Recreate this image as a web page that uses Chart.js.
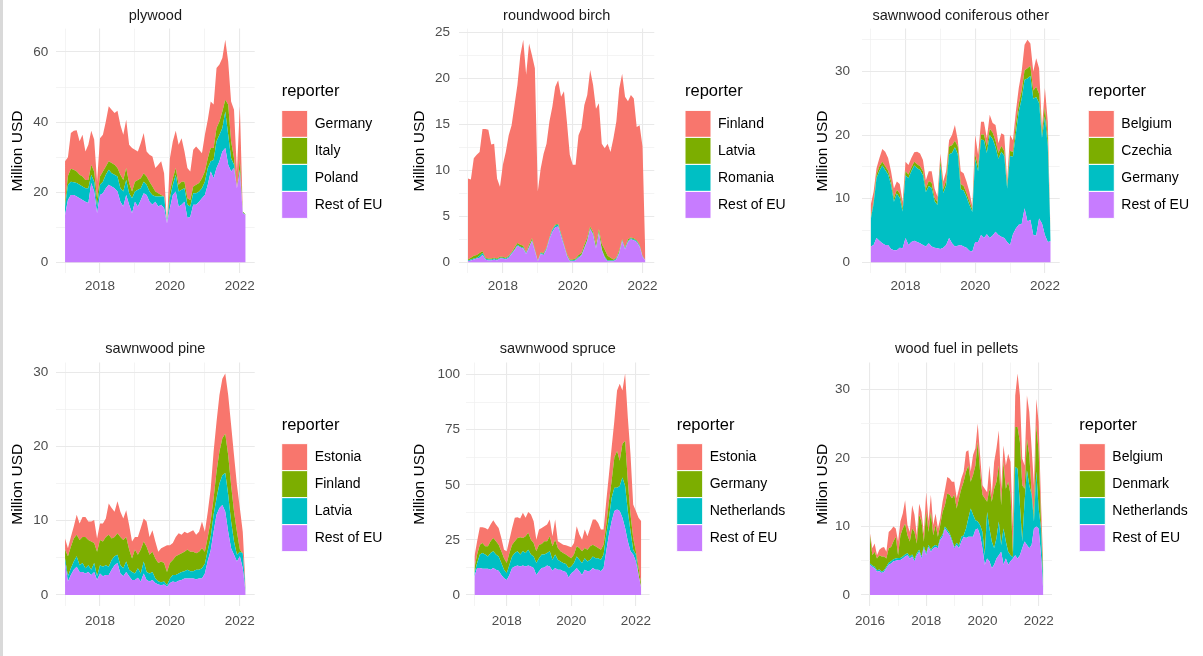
<!DOCTYPE html>
<html><head><meta charset="utf-8">
<script src="https://cdn.jsdelivr.net/npm/chart.js@4.4.1/dist/chart.umd.min.js"></script>
<style>
html,body{margin:0;padding:0;background:#fff;}
body{width:1203px;height:656px;position:relative;overflow:hidden;}
.panel{position:absolute;}
.panel canvas{display:block;}
#edge{position:absolute;left:0;top:0;width:3px;height:656px;background:#d9d9d9;}
</style></head><body>
<div id="edge"></div>
<div class="panel" style="left:0;top:0"><canvas id="c1" width="400" height="328"></canvas></div>
<div class="panel" style="left:400px;top:0"><canvas id="c2" width="400" height="328"></canvas></div>
<div class="panel" style="left:800px;top:0"><canvas id="c3" width="403" height="328"></canvas></div>
<div class="panel" style="left:0;top:328px"><canvas id="c4" width="400" height="328"></canvas></div>
<div class="panel" style="left:400px;top:328px"><canvas id="c5" width="400" height="328"></canvas></div>
<div class="panel" style="left:800px;top:328px"><canvas id="c6" width="403" height="328"></canvas></div>
<script>
// ---------------- DATA (Million USD, monthly) ----------------
// plywood: 2017-01 .. 2022-03
const plywoodStart = 2017;
const plywoodReporters = ['Germany','Italy','Poland','Rest of EU'];
const plywoodGermany = [11.8,5.4,10.2,11.1,11.8,9.5,11.9,8.1,10.0,9.7,9.1,4.7, 10.9,10.5,12.9,15.7,15.2,14.8,16.3,14.2,12.9,13.8,10.9,12.4, 9.1,8.1,10.0,11.5,7.1,7.7,8.6,6.7,8.1,9.6,6.6,0.0, 9.5,10.5,10.6,11.4,12.4,8.6,8.6,8.1,10.5,10.9,9.5,7.1, 10.5,11.0,13.3,12.4,17.1,16.2,15.3,17.1,12.3,11.4,13.8,4.8, 15.3,0.0,0.0];
const plywoodItaly = [1.1,2.5,3.7,3.6,3.3,2.9,2.9,2.4,2.4,2.8,2.9,2.4, 2.4,2.9,2.3,2.4,2.9,2.8,2.4,3.9,3.3,3.4,2.9,1.9, 2.8,2.8,2.9,2.4,2.4,2.8,2.4,1.4,0.9,0.4,0.0,0.0, 1.9,1.9,1.9,1.9,2.3,1.9,1.9,1.9,1.9,2.4,2.4,2.9, 2.9,2.8,3.8,3.4,3.8,3.8,4.7,3.4,8.6,4.8,1.9,0.0, 2.8,0.3,0.1];
const plywoodPoland = [2.4,4.3,3.8,3.6,3.8,3.8,3.8,3.8,4.2,2.4,2.8,1.9, 2.9,3.3,3.9,4.3,3.8,3.9,4.3,3.8,4.3,4.3,3.3,4.3, 2.9,4.8,3.3,3.3,2.9,2.9,2.8,1.5,2.9,2.4,3.4,0.1, 2.9,2.9,4.8,4.3,4.3,3.8,3.8,2.9,3.3,3.3,2.9,2.8, 3.8,4.8,2.9,5.2,7.6,7.6,6.7,10.4,8.6,3.8,0.9,0.0, 0.5,0.2,0.0];
const plywoodRestEU = [13.5,17.8,19.2,19.2,18.8,18.3,17.8,17.3,16.9,22.6,20.2,14.0, 19.2,19.7,21.1,22.1,21.6,21.1,20.2,17.3,15.9,19.2,16.4,14.0, 17.3,15.9,17.8,19.7,19.2,17.3,16.4,17.3,15.9,16.4,15.4,11.1, 15.4,19.2,20.2,15.9,16.4,17.3,12.6,13.0,16.4,16.4,17.3,18.3, 19.2,22.1,25.9,24.0,26.9,28.8,31.6,32.6,27.8,25.9,26.9,21.1, 25.9,14.0,13.5];

// roundwood birch: 2017-01 .. 2022-02
const birchStart = 2017;
const birchReporters = ['Finland','Latvia','Romania','Rest of EU'];
const birchFinland = [8.8,8.5,10.6,10.9,11.0,13.3,14.0,14.0,12.4,12.4,8.7,7.6, 10.0,11.5,13.1,13.8,15.5,17.2,20.6,22.4,19.3,21.9,19.9,19.7, 7.5,9.1,10.8,11.3,12.6,13.3,15.0,15.6,14.9,16.6,14.4,11.4, 10.3,10.2,13.0,13.6,15.2,15.5,17.0,16.0,14.7,13.7,10.9,11.0, 12.2,11.5,13.2,14.8,17.6,18.0,16.4,15.0,15.5,15.2,12.3,13.0, 11.9,0.0];
const birchLatvia = [0.1,0.2,0.3,0.3,0.3,0.2,0.1,0.1,0.1,0.1,0.1,0.1, 0.1,0.1,0.1,0.1,0.2,0.2,0.2,0.2,0.1,0.2,0.2,0.1, 0.05,0.1,0.1,0.1,0.1,0.1,0.1,0.1,0.1,0.1,0.1,0.1, 0.1,0.1,0.2,0.2,0.3,0.3,0.2,0.2,0.4,0.3,0.6,0.8, 0.5,0.3,0.1,0.1,0.2,0.1,0.1,0.2,0.1,0.1,0.1,0.1, 0.05,0.0];
const birchRomania = [0.1,0.1,0.1,0.1,0.2,0.2,0.1,0.1,0.1,0.1,0.1,0.1, 0.1,0.1,0.1,0.1,0.1,0.1,0.1,0.1,0.1,0.1,0.1,0.1, 0.05,0.1,0.1,0.1,0.1,0.2,0.2,0.2,0.2,0.1,0.1,0.1, 0.1,0.1,0.1,0.1,0.1,0.1,0.1,0.1,0.1,0.1,0.1,0.1, 0.1,0.1,0.1,0.1,0.1,0.1,0.1,0.1,0.1,0.1,0.1,0.1, 0.05,0.0];
const birchRestEU = [0.1,0.2,0.3,0.4,0.5,0.8,0.3,0.2,0.2,0.3,0.2,0.4, 0.4,0.3,0.5,0.9,1.3,1.8,1.6,1.5,0.9,1.6,2.3,1.2, 0.1,0.9,0.8,1.4,2.5,3.3,3.8,3.9,2.8,1.8,0.7,0.1, 0.1,0.2,0.5,0.7,1.5,2.3,3.6,3.0,1.5,3.2,1.3,0.5, 0.1,0.1,0.1,0.3,1.0,2.3,1.4,2.2,2.5,2.4,2.2,1.7, 0.6,0.2];

// sawnwood coniferous other: 2017-01 .. 2022-03
const conifStart = 2017;
const conifReporters = ['Belgium','Czechia','Germany','Rest of EU'];
const conifBelgium = [2.0,1.5,1.0,1.3,2.0,2.3,2.0,1.5,1.5,1.3,1.5,1.0, 1.5,1.5,1.5,1.5,2.0,2.0,1.8,1.3,1.5,1.8,1.5,0.8, 1.0,1.2,1.4,1.0,1.6,2.5,1.0,2.0,2.0,1.8,1.5,0.5, 3.0,1.8,2.0,2.0,1.3,2.2,1.5,2.5,1.5,2.0,2.5,0.8, 2.5,1.8,2.0,2.5,3.0,4.0,4.5,3.5,3.0,4.5,4.0,0.8, 3.0,2.5,0.0];
const conifCzechia = [0.3,0.4,0.6,0.7,0.6,0.6,0.6,0.6,0.6,0.6,0.7,0.5, 0.6,0.6,0.6,0.6,0.6,0.6,0.6,0.6,0.8,0.8,0.5,0.5, 0.8,0.6,0.8,1.2,1.2,1.0,1.2,0.8,0.7,0.6,0.6,0.4, 0.8,0.8,0.8,0.9,1.0,1.0,1.0,1.0,0.9,0.9,0.8,0.5, 0.8,0.8,1.5,1.2,1.3,1.5,1.6,1.6,1.3,1.6,1.5,0.7, 1.5,1.3,0.0];
const conifGermany = [4.2,6.5,9.4,11.0,12.2,11.8,11.1,10.1,7.6,8.9,7.8,5.8, 9.9,10.5,11.1,11.8,11.6,11.5,11.0,8.5,9.0,9.2,7.3,6.8, 13.2,8.6,9.4,13.2,14.2,15.6,14.4,8.8,8.8,8.0,7.2,6.2, 13.0,11.1,15.0,15.4,12.8,16.2,15.2,13.3,12.0,13.4,12.9,8.4, 14.0,12.2,14.9,17.8,19.7,20.2,22.5,22.6,21.4,21.8,18.1,13.5, 18.6,15.1,0.0];
const conifRestEU = [2.5,2.7,3.8,3.4,3.0,2.7,2.7,2.1,1.9,1.9,2.3,2.2, 3.8,2.7,3.2,3.4,3.2,3.0,2.7,2.5,3.0,2.5,2.3,2.2, 2.1,2.3,2.7,3.8,3.0,2.5,2.6,2.7,2.5,2.3,1.8,1.7, 3.2,3.2,4.3,3.8,4.4,3.8,4.2,4.8,4.3,4.0,3.8,3.2, 2.7,4.4,5.3,5.9,6.0,8.5,6.4,6.7,4.3,4.2,6.9,6.1, 4.3,3.2,3.3];

// sawnwood pine: 2017-01 .. 2022-03
const pineStart = 2017;
const pineReporters = ['Estonia','Finland','Latvia','Rest of EU'];
const pineEstonia = [1.5,1.1,1.3,1.6,2.7,2.2,2.7,2.7,2.5,2.7,3.1,1.8, 2.2,2.4,2.5,4.2,4.1,3.4,4.3,3.4,2.9,3.6,3.3,2.3, 1.7,2.4,2.9,3.1,3.4,2.4,2.9,2.3,1.5,1.8,2.2,3.6, 2.4,2.3,2.6,2.9,2.5,2.7,2.2,2.7,2.9,2.5,2.7,3.6, 2.7,3.4,4.3,6.3,6.7,7.6,8.0,8.1,8.1,8.1,7.6,6.3, 5.6,2.9,0.2];
const pineFinland = [1.2,2.7,2.9,3.1,2.9,3.4,3.5,4.2,3.4,3.8,2.7,3.3, 3.4,3.4,3.8,4.3,2.9,2.6,2.9,3.8,3.8,3.3,2.7,1.8, 3.2,1.8,3.2,2.7,3.4,2.5,2.7,2.7,2.5,2.8,2.5,1.8, 2.1,2.0,2.5,2.5,2.5,2.6,2.7,2.6,2.6,2.2,2.4,2.7, 1.6,1.8,2.2,2.2,3.6,4.3,5.0,5.3,5.3,4.9,4.0,3.1, 0.3,0.0,0.3];
const pineLatvia = [0.6,0.7,0.9,1.1,1.4,0.9,1.2,0.7,0.9,0.7,1.2,0.5, 1.1,1.3,1.3,1.1,1.3,1.2,1.1,1.1,1.1,1.4,0.9,1.1, 0.9,1.3,1.1,1.6,1.1,1.1,1.1,0.6,0.4,0.4,0.4,0.2, 0.6,0.9,1.0,1.0,1.1,1.0,1.2,1.0,1.0,1.3,1.2,1.4, 1.3,1.4,1.8,2.3,2.2,3.3,4.0,5.2,5.0,3.6,1.8,0.9, 0.6,2.0,0.1];
const pineRestEU = [4.3,1.8,2.7,3.4,3.8,3.1,3.1,2.9,3.1,2.7,3.1,2.0, 2.9,2.5,2.7,2.7,3.4,4.0,4.3,2.9,2.5,3.1,2.5,2.0, 2.0,2.3,1.8,2.9,2.0,1.8,2.0,1.6,1.4,1.3,1.4,1.1, 1.6,1.8,1.7,1.9,2.0,2.2,2.2,2.2,2.2,2.1,2.2,2.2, 2.9,4.6,6.0,8.5,10.8,11.7,12.1,11.2,8.5,6.3,5.4,4.5, 5.2,3.6,0.3];

// sawnwood spruce: 2017-01 .. 2022-03
const spruceStart = 2017;
const spruceReporters = ['Estonia','Germany','Netherlands','Rest of EU'];
const spruceEstonia = [5.3,6.1,7.9,7.1,8.3,7.6,7.6,8.0,7.6,7.6,6.1,3.8, 5.3,6.1,7.6,10.6,9.4,8.5,11.4,8.4,9.5,11.4,9.9,5.3, 6.9,7.3,6.8,7.6,7.6,4.5,9.1,3.1,3.8,3.8,4.2,4.6, 4.9,5.3,9.1,6.1,5.3,8.4,6.1,8.3,11.4,12.1,11.4,9.2, 6.9,10.6,12.2,15.2,16.7,27.4,35.0,24.3,30.5,28.9,27.4,15.2, 18.3,22.8,28.9];
const spruceGermany = [2.3,3.8,4.5,4.6,3.8,4.6,5.4,6.1,6.1,5.3,5.3,5.3, 4.6,5.3,5.3,5.4,6.1,7.9,6.1,7.6,7.7,6.8,6.1,5.3, 6.1,4.8,6.1,5.4,6.8,6.1,6.8,5.3,4.6,4.5,4.3,5.3, 3.8,3.8,4.6,5.3,5.3,4.6,5.3,6.1,5.3,5.4,4.6,4.5, 4.5,4.6,7.6,7.7,13.7,16.7,11.4,15.2,20.5,13.7,7.6,5.4, 1.5,3.1,1.6];
const spruceNetherlands = [1.5,2.3,6.1,7.1,6.4,5.6,7.6,7.6,6.9,6.5,5.4,3.8, 3.1,4.6,5.3,6.1,6.4,5.4,6.4,6.1,7.1,5.4,5.3,5.4, 6.0,6.1,5.8,5.6,6.9,5.0,6.1,4.6,3.8,3.8,3.6,4.3, 3.0,3.8,5.3,5.3,5.4,5.3,4.5,5.0,5.3,5.3,5.3,5.3, 6.1,7.6,7.6,10.6,10.6,9.9,11.4,18.3,19.1,13.7,9.1,2.2, 3.1,0.0,0.0];
const spruceRestEU = [8.4,12.2,12.2,11.9,11.9,11.9,11.4,12.2,11.4,11.0,9.1,7.6, 6.8,9.1,12.2,12.9,13.4,12.9,13.4,12.9,13.4,12.9,12.2,9.1, 10.7,12.2,12.5,13.4,12.9,11.0,12.2,11.4,11.4,10.7,10.4,7.9, 9.9,10.7,12.2,10.7,9.1,11.4,10.7,11.0,12.2,11.4,11.4,10.7, 12.2,19.8,27.4,33.5,38.1,38.8,38.1,35.0,30.4,24.4,19.8,18.3, 15.2,9.1,3.0];

// wood fuel in pellets: 2016-01 .. 2022-03
const pelletsStart = 2016;
const pelletsReporters = ['Belgium','Denmark','Netherlands','Rest of EU'];
const pelletsBelgium = [0.3,1.0,1.2,0.5,0.8,1.3,1.4,1.0,2.4,2.5,2.2,1.2, 2.0,2.0,2.2,3.4,1.5,1.4,3.4,2.5,1.2,1.6,1.4,1.2, 2.9,1.5,2.5,1.5,1.7,1.2,1.0,1.5,2.2,2.4,2.4,2.4, 1.9,1.5,1.4,1.5,1.5,2.9,2.2,1.5,2.9,2.5,2.7,2.4, 1.4,1.4,1.4,3.4,1.0,3.9,4.9,5.1,2.4,2.4,3.4,4.1, 4.8,4.0,4.6,7.8,6.8,3.9,3.4,6.3,6.3,6.4,4.3,3.8, 4.3,2.9,1.0];
const pelletsDenmark = [4.1,1.5,2.2,1.7,2.1,2.2,2.0,1.2,2.1,2.1,2.6,3.2, 0.4,3.3,4.1,4.5,2.6,2.2,3.8,4.0,1.4,5.1,5.1,0.7, 6.0,1.9,5.5,1.6,2.9,1.4,1.9,3.3,3.1,5.3,5.6,6.0, 7.6,5.0,6.9,7.0,7.8,8.3,7.7,3.9,5.8,8.0,11.6,7.8, 5.4,8.3,1.5,5.8,5.8,8.7,8.2,8.2,5.8,9.7,7.7,10.2, 8.8,0.5,5.8,6.1,9.2,8.2,1.9,4.6,4.4,0.4,1.0,6.8, 8.3,1.0,1.9];
const pelletsNetherlands = [0.2,0.2,0.2,0.2,0.2,0.2,0.2,0.2,0.3,0.3,0.3,0.3, 0.3,0.3,0.3,0.3,0.3,0.3,0.3,0.3,0.3,0.3,0.3,0.3, 0.3,0.3,0.3,0.3,0.3,0.3,0.3,0.3,0.3,0.3,0.3,0.3, 0.2,0.3,0.4,0.7,0.2,1.4,2.7,4.1,3.2,1.4,1.0,1.5, 2.4,1.4,6.8,4.8,3.9,2.4,3.0,4.9,1.0,5.3,2.5,1.9, 0.9,0.2,12.9,13.1,7.3,1.0,5.8,10.9,9.2,7.3,1.0,8.0, 2.9,3.9,0.5];
const pelletsRestEU = [4.4,4.1,3.9,3.4,3.5,3.2,3.4,3.9,4.4,4.6,4.9,5.0, 5.1,5.1,5.3,5.6,5.8,5.3,5.6,4.9,5.8,6.3,5.3,6.8, 5.8,7.0,6.3,6.8,7.0,6.8,8.0,8.5,9.7,9.2,8.7,7.8, 6.8,7.3,6.8,7.8,8.5,8.3,8.5,8.5,8.5,9.5,9.7,8.7, 6.8,4.4,5.3,4.9,3.9,4.4,5.3,5.8,6.3,4.4,5.3,4.4, 4.9,5.3,5.8,5.3,5.8,6.8,7.8,7.3,6.8,7.3,9.7,10.0, 9.7,5.8,0.5];

// tick values
const yTicksPlywood = [0,10,20,30,40,50,60];         const yLabelsPlywood = [0,20,40,60];
const yTicksBirch = [0,2.5,5,7.5,10,12.5,15,17.5,20,22.5,25]; const yLabelsBirch = [0,5,10,15,20,25];
const yTicksConif = [0,5,10,15,20,25,30,35];         const yLabelsConif = [0,10,20,30];
const yTicksPine = [0,5,10,15,20,25,30];             const yLabelsPine = [0,10,20,30];
const yTicksSpruce = [0,12.5,25,37.5,50,62.5,75,87.5,100]; const yLabelsSpruce = [0,25,50,75,100];
const yTicksPellets = [0,5,10,15,20,25,30];          const yLabelsPellets = [0,10,20,30];
const xTicks2017 = [2017,2018,2019,2020,2021,2022];  const xLabels2017 = [2018,2020,2022];
const xTicks2016 = [2016,2017,2018,2019,2020,2021,2022]; const xLabels2016 = [2016,2018,2020,2022];

// ---------------- STYLE ----------------
const FONT = '"Liberation Sans", Arial, Helvetica, sans-serif';
const KEY_COLORS = ['#F8766D','#7CAE00','#00BFC4','#C77CFF']; // legend order

function monthSeq(startYear, n){ return Array.from({length:n}, (_, i) => startYear + i / 12); }

const panels = [
  {id:'c1', title:'plywood', start:plywoodStart, reporters:plywoodReporters,
   series:[plywoodGermany, plywoodItaly, plywoodPoland, plywoodRestEU],
   yTicks:yTicksPlywood, yLabels:yLabelsPlywood, xTicks:xTicks2017, xLabels:xLabels2017,
   L:{padL:8.4, padT:7.2, titleB:4.0, padB:29.6, yW:47.6, yPad:7.7, gap:27, legW:118.3, xPad:5}},
  {id:'c2', title:'roundwood birch', start:birchStart, reporters:birchReporters,
   series:[birchFinland, birchLatvia, birchRomania, birchRestEU],
   yTicks:yTicksBirch, yLabels:yLabelsBirch, xTicks:xTicks2017, xLabels:xLabels2017,
   L:{padL:10.1, padT:7.2, titleB:4.0, padB:29.6, yW:49, yPad:9.1, gap:30.7, legW:115, xPad:5}},
  {id:'c3', title:'sawnwood coniferous other', start:conifStart, reporters:conifReporters,
   series:[conifBelgium, conifCzechia, conifGermany, conifRestEU],
   yTicks:yTicksConif, yLabels:yLabelsConif, xTicks:xTicks2017, xLabels:xLabels2017,
   L:{padL:13.4, padT:7.2, titleB:4.0, padB:29.6, yW:48.3, yPad:11.7, gap:28.6, legW:114.7, xPad:5}},
  {id:'c4', title:'sawnwood pine', start:pineStart, reporters:pineReporters,
   series:[pineEstonia, pineFinland, pineLatvia, pineRestEU],
   yTicks:yTicksPine, yLabels:yLabelsPine, xTicks:xTicks2017, xLabels:xLabels2017,
   L:{padL:8.4, padT:12.5, titleB:4.6, padB:25, yW:47.6, yPad:7.7, gap:27, legW:118.3, xPad:7.5}},
  {id:'c5', title:'sawnwood spruce', start:spruceStart, reporters:spruceReporters,
   series:[spruceEstonia, spruceGermany, spruceNetherlands, spruceRestEU],
   yTicks:yTicksSpruce, yLabels:yLabelsSpruce, xTicks:xTicks2017, xLabels:xLabels2017,
   L:{padL:10.1, padT:12.5, titleB:4.6, padB:25, yW:56, yPad:6.1, gap:27.1, legW:123.3, xPad:7.5}},
  {id:'c6', title:'wood fuel in pellets', start:pelletsStart, reporters:pelletsReporters,
   series:[pelletsBelgium, pelletsDenmark, pelletsNetherlands, pelletsRestEU],
   yTicks:yTicksPellets, yLabels:yLabelsPellets, xTicks:xTicks2016, xLabels:xLabels2016,
   L:{padL:13.4, padT:12.5, titleB:4.6, padB:25, yW:47.9, yPad:11.3, gap:27.3, legW:123.7, xPad:7.5}}
];

function gridColor(labels){ return ctx => labels.includes(ctx.tick && ctx.tick.value) ? '#e9e9e9' : '#f1f1f1'; }
function gridWidth(labels){ return ctx => labels.includes(ctx.tick && ctx.tick.value) ? 1.1 : 0.8; }

function legendWidthPlugin(w){
  return { id:'legendWidth', beforeLayout(chart){
    const lg = chart.legend;
    if (lg && !lg._fixedW){ const f = lg.fit; lg.fit = function(){ f.call(this); this.width = w; }; lg._fixedW = true; }
  }};
}

panels.forEach(p => {
  const n = p.series[0].length;
  const xs = monthSeq(p.start, n);
  const totals = xs.map((_, i) => p.series.reduce((s, arr) => s + arr[i], 0));
  const yTop = Math.max(...totals);
  const xSpan = xs[n-1] - xs[0];
  const datasets = [];
  for (let k = p.series.length - 1; k >= 0; k--) {
    datasets.push({
      label: p.reporters[k],
      data: xs.map((x, i) => ({x: x, y: p.series[k][i]})),
      backgroundColor: KEY_COLORS[k],
      borderColor: 'rgba(0,0,0,0)', borderWidth: 0,
      pointRadius: 0, pointHoverRadius: 0, tension: 0,
      fill: datasets.length === 0 ? 'origin' : '-1'
    });
  }
  const L = p.L;
  new Chart(document.getElementById(p.id), {
    type: 'line',
    data: { datasets },
    options: {
      responsive: false, animation: false, events: [],
      layout: { padding: { left: L.padL, top: L.padT, right: 0, bottom: L.padB } },
      scales: {
        x: {
          type: 'linear', min: xs[0] - 0.05 * xSpan, max: xs[n-1] + 0.05 * xSpan,
          border: { display: false },
          grid: { drawTicks: false, color: gridColor(p.xLabels), lineWidth: gridWidth(p.xLabels) },
          ticks: { padding: L.xPad, color: '#4d4d4d', font: { family: FONT, size: 13.5 }, maxRotation: 0, autoSkip: false,
                   callback: v => p.xLabels.includes(v) ? String(v) : '' },
          afterBuildTicks: s => { s.ticks = p.xTicks.map(v => ({ value: v })); },
          afterFit: s => { s.height = 25; }
        },
        y: {
          type: 'linear', stacked: true, min: -0.05 * yTop, max: yTop * 1.05,
          border: { display: false },
          grid: { drawTicks: false, color: gridColor(p.yLabels), lineWidth: gridWidth(p.yLabels) },
          ticks: { padding: L.yPad, color: '#4d4d4d', font: { family: FONT, size: 13.5 },
                   callback: v => p.yLabels.includes(v) ? String(v) : '' },
          title: { display: true, text: 'Million USD', color: '#000', font: { family: FONT, size: 15.5 }, padding: 0 },
          afterBuildTicks: s => { s.ticks = p.yTicks.map(v => ({ value: v })); },
          afterFit: s => { s.width = L.yW; }
        },
        gap: {
          type: 'linear', position: 'right', display: true,
          grid: { display: false, drawTicks: false }, border: { display: false }, ticks: { display: false },
          afterFit: s => { s.width = L.gap; }
        }
      },
      plugins: {
        tooltip: { enabled: false },
        title: { display: true, text: p.title, color: '#1a1a1a', fullSize: false,
                 font: { family: FONT, size: 14.5, weight: 'normal' }, padding: { top: 0, bottom: L.titleB } },
        legend: {
          position: 'right', align: 'center', fullSize: false, reverse: true,
          title: { display: true, text: 'reporter', color: '#000', position: 'start',
                   font: { family: FONT, size: 16.5 }, padding: { top: 0, bottom: 7 } },
          labels: {
            boxWidth: 26, boxHeight: 27, padding: 0, color: '#000', font: { family: FONT, size: 14 },
            generateLabels: chart => {
              const items = Chart.defaults.plugins.legend.labels.generateLabels(chart);
              items.forEach(it => { it.strokeStyle = '#ffffff'; it.lineWidth = 1; });
              return items;
            }
          }
        }
      }
    },
    plugins: [legendWidthPlugin(L.legW)]
  });
});
</script>
</body></html>
